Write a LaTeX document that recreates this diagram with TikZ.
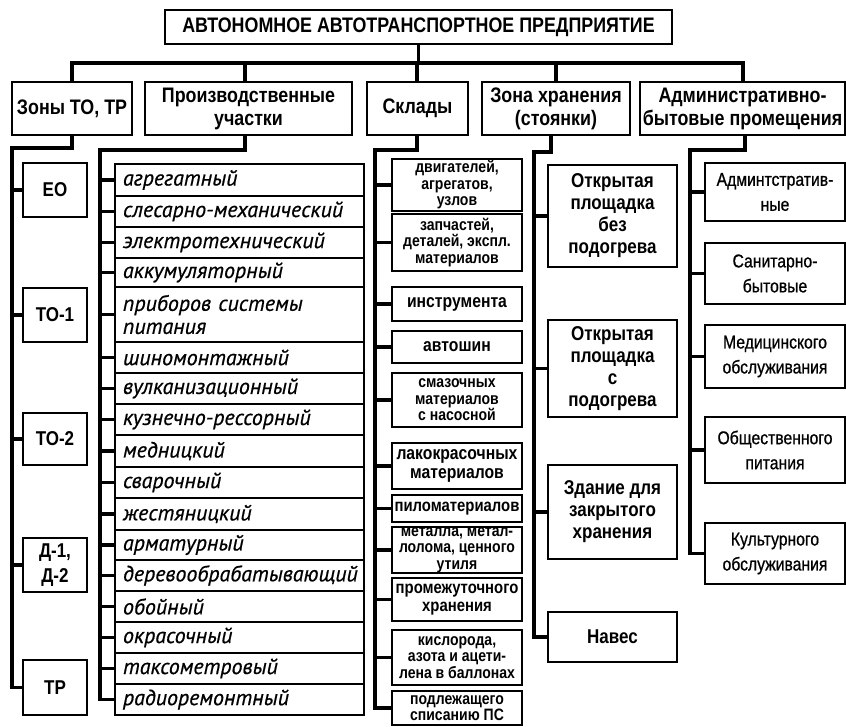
\documentclass[tikz,border=0pt]{standalone}
\usepackage{fontspec}
\setmainfont{Liberation Sans}[FakeStretch=0.85]
\newfontfamily\handfont{PT Sans}[FakeBold=0.6]
\newfontfamily\admfont{Liberation Sans}[FakeStretch=0.85,FakeBold=0.8]
\begin{document}
\newcommand\fhdr{\fontsize{21}{23}\selectfont\bfseries}
\newcommand\fskl{\fontsize{18.5}{19}\selectfont\bfseries}
\newcommand\fsklb{\fontsize{16.5}{16.5}\selectfont\bfseries}
\newcommand\fzh{\fontsize{20}{22}\selectfont\bfseries}
\newcommand\fadm{\admfont\fontsize{18.5}{25}\selectfont}
\newcommand\fzon{\fontsize{20}{25}\selectfont\bfseries}
\newcommand\fprod{\handfont\itshape\fontsize{22}{23}\selectfont}
\newcommand\bx[7][]{\node[box,#1,minimum width={(#5-#3)*1pt},minimum height={(#6-#4)*1pt}] (#2) at ({(#3+#5)/2},{(#4+#6)/2}) {#7};}
\newcommand\rw[4]{\node[box,font=\fprod,align=left,text width={(364-115-16)*1pt},minimum width={(364-115)*1pt},minimum height={(#4-#3)*1pt}] (#1) at ({(115+364)/2},{(#3+#4)/2}) {#2};}
\begin{tikzpicture}[x=1pt,y=-1pt,
  box/.style={draw,line width=1.8pt,inner sep=0pt,outer sep=0pt,align=center},
  conn/.style={line width=3.2pt,line join=miter}]
\useasboundingbox (0,0) rectangle (846,727);
% title and headers
\bx[font=\fhdr]{T}{165}{10}{672}{44}{АВТОНОМНОЕ АВТОТРАНСПОРТНОЕ ПРЕДПРИЯТИЕ}
\bx[font=\fhdr]{zon}{12}{82}{132}{135}{Зоны ТО, ТР}
\bx[font=\fhdr]{prod}{145}{82}{352}{135}{Производственные\\участки}
\bx[font=\fhdr]{skl}{367}{82}{468}{135}{Склады}
\bx[font=\fhdr]{zh}{482}{82}{630}{135}{Зона хранения\\(стоянки)}
\bx[font=\fhdr]{adm}{640}{82}{845}{135}{Административно-\\бытовые промещения}
% bar
\coordinate (bL) at (72,63);
\coordinate (bR) at (743,63);
\coordinate (dProd) at (245,63);
\coordinate (dSkl) at (417,63);
\coordinate (dZh) at (556,63);
\draw[conn] (T.south) -- (T.south |- bL);
\draw[conn] (zon.north -| bL) -- (bL) -- (bR) -- (bR |- adm.north);
\draw[conn] (dProd) -- (dProd |- prod.north);
\draw[conn] (dSkl) -- (dSkl |- skl.north);
\draw[conn] (dZh) -- (dZh |- zh.north);
% spines
\coordinate (zonD) at (72,148);   \coordinate (zonS) at (12,148);
\coordinate (prodD) at (245,150); \coordinate (prodS) at (100,150);
\coordinate (sklD) at (417,150);  \coordinate (sklS) at (375,150);
\coordinate (zhD) at (551,152);   \coordinate (zhS) at (534,152);
\coordinate (admD) at (745,150);  \coordinate (admS) at (690,150);
% zones
\bx[font=\fzon]{EO}{23}{163}{87}{217}{ЕО}
\bx[font=\fzon]{TOa}{23}{288}{87}{342}{ТО-1}
\bx[font=\fzon]{TOb}{23}{413}{87}{465}{ТО-2}
\bx[font=\fzon]{D}{23}{538}{87}{592}{Д-1,\\Д-2}
\bx[font=\fzon]{TR}{23}{660}{87}{715}{ТР}
\draw[conn] (zonD |- zon.south) -- (zonD) -- (zonS) -- (zonS |- TR.west) -- (TR.west);
\foreach \n in {EO,TOa,TOb,D} \draw[conn] (\n.west) -- (zonS |- \n.west);
% production
\rw{r1}{агрегатный}{164}{196}
\rw{r2}{слесарно-механический}{196}{227}
\rw{r3}{электротехнический}{227}{258}
\rw{r4}{аккумуляторный}{258}{287}
\rw{r5}{приборов системы\\питания}{287}{342}
\rw{r6}{шиномонтажный}{342}{373}
\rw{r7}{вулканизационный}{373}{404}
\rw{r8}{кузнечно-рессорный}{404}{435}
\rw{r9}{медницкий}{435}{467}
\rw{r10}{сварочный}{467}{498}
\rw{r11}{жестяницкий}{498}{530}
\rw{r12}{арматурный}{530}{560}
\rw{r13}{деревообрабатывающий}{560}{591}
\rw{r14}{обойный}{591}{622}
\rw{r15}{окрасочный}{622}{653}
\rw{r16}{таксометровый}{653}{684}
\rw{r17}{радиоремонтный}{684}{715}
\draw[conn] (prodD |- prod.south) -- (prodD) -- (prodS) -- (prodS |- r17.west) -- (r17.west);
\foreach \n in {r1,r2,r3,r4,r5,r6,r7,r8,r9,r10,r11,r12,r13,r14,r15,r16} \draw[conn] (\n.west) -- (prodS |- \n.west);
% warehouses
\bx[font=\fsklb]{s1}{392}{159}{522}{211}{двигателей,\\агрегатов,\\узлов}
\bx[font=\fsklb]{s2}{392}{214}{522}{271}{запчастей,\\деталей, экспл.\\материалов}
\bx[font=\fskl]{s3}{392}{287}{522}{321}{инструмента}
\bx[font=\fskl]{s4}{392}{331}{522}{363}{автошин}
\bx[font=\fsklb]{s5}{392}{373}{522}{427}{смазочных\\материалов\\с насосной}
\bx[font=\fskl]{s6}{392}{443}{522}{489}{лакокрасочных\\материалов}
\bx[font=\fskl\fontsize{17.5}{16}\selectfont]{s7}{392}{495}{522}{522}{пиломатериалов}
\bx[font=\fsklb]{s8}{392}{527}{522}{573}{металла, метал-\\лолома, ценного\\утиля}
\bx[font=\fskl\fontsize{17.5}{18.5}\selectfont]{s9}{392}{578}{522}{621}{промежуточного\\хранения}
\bx[font=\fsklb]{s10}{392}{630}{522}{685}{кислорода,\\азота и ацети-\\лена в баллонах}
\bx[font=\fsklb]{s11}{392}{691}{522}{725}{подлежащего\\списанию ПС}
\draw[conn] (sklD |- skl.south) -- (sklD) -- (sklS) -- (sklS |- s11.west) -- (s11.west);
\foreach \n in {s1,s2,s3,s4,s5,s6,s7,s8,s9,s10} \draw[conn] (\n.west) -- (sklS |- \n.west);
% storage
\bx[font=\fzh]{h1}{548}{165}{677}{267}{Открытая\\площадка\\без\\подогрева}
\bx[font=\fzh]{h2}{548}{320}{677}{417}{Открытая\\площадка\\с\\подогрева}
\bx[font=\fzh]{h3}{548}{465}{677}{559}{Здание для\\закрытого\\хранения}
\bx[font=\fzh]{h4}{548}{612}{677}{662}{Навес}
\draw[conn] (zhD |- zh.south) -- (zhD) -- (zhS) -- (zhS |- h4.west) -- (h4.west);
\foreach \n in {h1,h2,h3} \draw[conn] (\n.west) -- (zhS |- \n.west);
% admin
\bx[font=\fadm]{a1}{705}{163}{845}{221}{Админтстратив-\\ные}
\bx[font=\fadm]{a2}{705}{243}{845}{304}{Санитарно-\\бытовые}
\bx[font=\fadm]{a3}{705}{325}{845}{388}{Медицинского\\обслуживания}
\bx[font=\fadm]{a4}{705}{417}{845}{483}{Общественного\\питания}
\bx[font=\fadm]{a5}{705}{523}{845}{584}{Культурного\\обслуживания}
\draw[conn] (admD |- adm.south) -- (admD) -- (admS) -- (admS |- a5.west) -- (a5.west);
\foreach \n in {a1,a2,a3,a4} \draw[conn] (\n.west) -- (admS |- \n.west);
\end{tikzpicture}
\end{document}
